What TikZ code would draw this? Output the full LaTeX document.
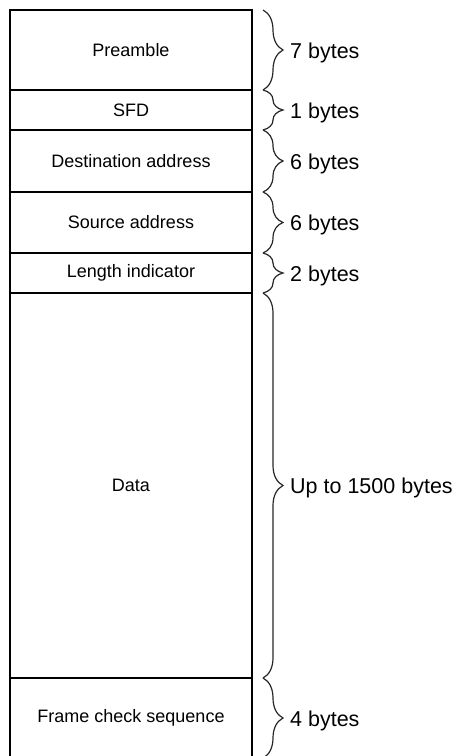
\documentclass[tikz,border=0pt]{standalone}
\usepackage{fontspec}
\setmainfont{Liberation Sans}
\usetikzlibrary{decorations.pathreplacing}

\begin{document}
\begin{tikzpicture}[x=1pt,y=-1pt,
  field/.style={draw,line width=2pt,minimum width=242pt,inner sep=0pt,outer sep=0pt,
    font=\fontsize{18}{20}\selectfont},
  bytebrace/.style={decorate,decoration={brace,amplitude=20pt},line width=1.2pt,black!85},
  size/.style={anchor=base west,inner sep=0pt,yshift=-8pt,font=\fontsize{21.5}{24}\selectfont}]
  \useasboundingbox (0,0) rectangle (454,756);
  % frame fields, top to bottom
  \node[field,minimum height=80pt]  (pre)  at (131,50)    {Preamble};
  \node[field,minimum height=40pt]  (sfd)  at (131,110)   {SFD};
  \node[field,minimum height=62pt]  (dst)  at (131,161)   {Destination address};
  \node[field,minimum height=61pt]  (src)  at (131,222.5) {Source address};
  \node[field,minimum height=40pt]  (len)  at (131,273)   {Length indicator};
  \node[field,minimum height=385pt] (data) at (131,485.5) {Data};
  \node[field,minimum height=80pt]  (fcs)  at (131,718)   {Frame check sequence};
  % sizes
  \draw[bytebrace] ([xshift=11pt]pre.north east) -- ([xshift=11pt]pre.south east);
  \draw[bytebrace] ([xshift=11pt]sfd.north east) -- ([xshift=11pt]sfd.south east);
  \draw[bytebrace] ([xshift=11pt]dst.north east) -- ([xshift=11pt]dst.south east);
  \draw[bytebrace] ([xshift=11pt]src.north east) -- ([xshift=11pt]src.south east);
  \draw[bytebrace] ([xshift=11pt]len.north east) -- ([xshift=11pt]len.south east);
  \draw[bytebrace] ([xshift=11pt]data.north east) -- ([xshift=11pt]data.south east);
  \draw[bytebrace] ([xshift=11pt]fcs.north east) -- ([xshift=11pt]fcs.south east);
  \node[size] (prebytes)  at ([xshift=38pt]pre.east)  {7 bytes};
  \node[size] (sfdbytes)  at ([xshift=38pt]sfd.east)  {1 bytes};
  \node[size] (dstbytes)  at ([xshift=38pt]dst.east)  {6 bytes};
  \node[size] (srcbytes)  at ([xshift=38pt]src.east)  {6 bytes};
  \node[size] (lenbytes)  at ([xshift=38pt]len.east)  {2 bytes};
  \node[size] (databytes) at ([xshift=38pt]data.east) {Up to 1500 bytes};
  \node[size] (fcsbytes)  at ([xshift=38pt]fcs.east)  {4 bytes};
\end{tikzpicture}
\end{document}
